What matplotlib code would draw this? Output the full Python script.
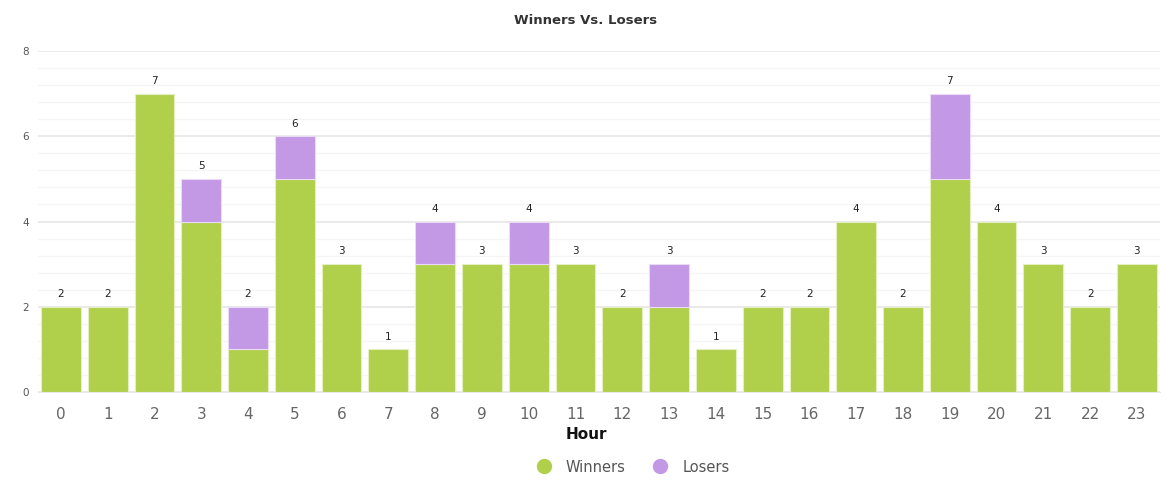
import numpy as np
import matplotlib.pyplot as plt
from matplotlib.lines import Line2D

hours = [str(h) for h in range(24)]
winners = [2, 2, 7, 4, 1, 5, 3, 1, 3, 3, 3, 3, 2, 2, 1, 2, 2, 4, 2, 5, 4, 3, 2, 3]
losers = [0, 0, 0, 1, 1, 1, 0, 0, 1, 0, 1, 0, 0, 1, 0, 0, 0, 0, 0, 2, 0, 0, 0, 0]

green = '#b0d04c'
purple = '#c398e5'

fig = plt.figure(figsize=(11.72, 4.99), dpi=100)
ax = fig.add_axes([0.032, 0.2144, 0.958, 0.6834])

x = np.arange(len(hours))
w_arr = np.array(winners)
l_arr = np.array(losers)
ax.bar(x, w_arr, width=0.85, color=green, edgecolor='#e4efc0', linewidth=0.8, zorder=3)
# only draw the loser segments that exist, so no stray edge on top of the green bars
has_l = l_arr > 0
ax.bar(x[has_l], l_arr[has_l], width=0.85, bottom=w_arr[has_l], color=purple,
       edgecolor='#ead9f7', linewidth=0.8, zorder=3)

totals = w_arr + l_arr
for xi, t in zip(x, totals):
    ax.text(xi, t + 0.18, str(t), ha='center', va='bottom', fontsize=7.5, color='#222222')

ax.set_xlim(-0.5, 23.5)
ax.set_ylim(0, 8)
ax.set_yticks([0, 2, 4, 6, 8])
ax.set_yticks(np.arange(0, 8.01, 0.4), minor=True)
ax.grid(axis='y', which='major', color='#e6e6e6', linewidth=1.2, zorder=0)
ax.grid(axis='y', which='minor', color='#f5f5f5', linewidth=1.0, zorder=0)
ax.set_xticks(x)
ax.set_xticklabels(hours)
ax.tick_params(axis='x', length=0, labelsize=11, labelcolor='#666666', pad=11)
ax.tick_params(axis='y', which='both', length=0, labelsize=7.5, labelcolor='#555555', pad=6)
for s in ax.spines.values():
    s.set_visible(False)
ax.spines['bottom'].set_visible(True)
ax.spines['bottom'].set_color('#e6e6e6')

fig.text(0.5, 0.958, 'Winners Vs. Losers', ha='center', va='center',
         fontsize=9.5, fontweight='bold', color='#333333')
fig.text(0.5, 0.13, 'Hour', ha='center', va='center',
         fontsize=11, fontweight='bold', color='#111111')

handles = [Line2D([], [], marker='o', linestyle='', markersize=10, color=green),
           Line2D([], [], marker='o', linestyle='', markersize=10, color=purple)]
fig.legend(handles, ['Winners', 'Losers'], loc='center', bbox_to_anchor=(0.537, 0.064),
           ncol=2, frameon=False, fontsize=10.5, labelcolor='#555555',
           handletextpad=0.5, columnspacing=1.4)

fig.savefig('out.png', dpi=100)
